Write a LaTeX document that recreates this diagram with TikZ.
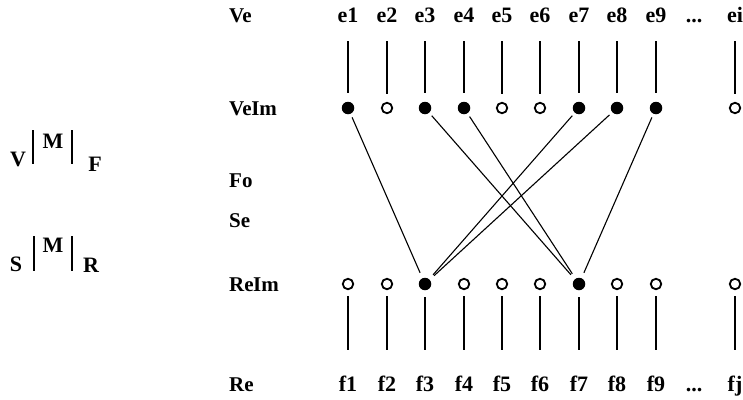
\documentclass[tikz,border=0pt]{standalone}
\usepackage{fontspec}
\setmainfont{Liberation Serif}
\begin{document}
\begin{tikzpicture}[x=1pt,y=-1pt,
  lbl/.style={font=\fontsize{22}{26}\selectfont\bfseries, inner sep=0pt, anchor=base, text height=14pt, text depth=0pt},
  rowlbl/.style={lbl, font=\fontsize{21}{25}\selectfont\bfseries, anchor=base west},
  mth/.style={font=\fontsize{22}{26}\selectfont\bfseries, inner sep=0pt, anchor=base},
  full/.style={circle, fill=black, minimum size=12.5pt, inner sep=0pt, outer sep=0pt},
  hollow/.style={circle, draw=black, line width=1.8pt, fill=white, minimum size=10.5pt, inner sep=0pt, outer sep=0pt},
  stem/.style={line width=1.7pt},
  link/.style={line width=1.1pt, shorten <=4pt, shorten >=6pt},
  bar/.style={line width=1.5pt}]
\useasboundingbox (0,0) rectangle (743,399);

% row captions
\node[rowlbl] (cVe)   at (229,22)  {Ve};
\node[rowlbl] (cVeIm) at (229,115) {Ve\kern-0.5pt Im};
\node[rowlbl] (cFo)   at (229,187) {Fo};
\node[rowlbl] (cSe)   at (229,227) {Se};
\node[rowlbl] (cReIm) at (229,291) {Re\kern-0.5pt Im};
\node[rowlbl] (cRe)   at (229,391) {Re};

% left-hand expressions
\node[mth] (v1) at (18,166) {V};
\node[mth] (m1) at (53,148) {M};
\node[mth] (f1x) at (95,171) {F};
\coordinate (b1a) at (33,130); \coordinate (b1b) at (33,164);
\coordinate (b2a) at (72,130); \coordinate (b2b) at (72,164);
\draw[bar] (b1a) -- (b1b);
\draw[bar] (b2a) -- (b2b);
\node[mth] (s2) at (16,271) {S};
\node[mth] (m2) at (53,252) {M};
\node[mth] (r2x) at (91,272) {R};
\coordinate (b3a) at (34,236); \coordinate (b3b) at (34,271);
\coordinate (b4a) at (72,236); \coordinate (b4b) at (72,271);
\draw[bar] (b3a) -- (b3b);
\draw[bar] (b4a) -- (b4b);

% columns: x position, top dot style, bottom dot style
\foreach \i/\x/\ts/\bs in {1/348/full/hollow, 2/387/hollow/hollow, 3/425/full/full,
    4/464/full/hollow, 5/502/hollow/hollow, 6/540/hollow/hollow,
    7/579/full/full, 8/617/full/hollow, 9/656/full/hollow}{
  \node[lbl] (e\i) at (\x,22) {e\i};
  \node[\ts] (t\i) at (\x,108) {};
  \node[\bs] (b\i) at (\x,284) {};
  \node[lbl] (f\i) at (\x,391) {f\i};
  \draw[stem, shorten <=19pt, shorten >=9pt] (e\i.south) -- (t\i.north);
  \draw[stem, shorten <=7pt, shorten >=27pt] (b\i.south) -- (f\i.north);
}
\node[lbl] (edots) at (694,22) {...};
\node[lbl] (fdots) at (694,391) {...};
\node[lbl] (ei) at (735,22) {ei};
\node[hollow] (ti) at (735,108) {};
\node[hollow] (bi) at (735,284) {};
\node[lbl] (fj) at (735,391) {fj};
\draw[stem, shorten <=19pt, shorten >=9pt] (ei.south) -- (ti.north);
\draw[stem, shorten <=7pt, shorten >=27pt] (bi.south) -- (fj.north);

% crossing links
\draw[link] (t1) -- (b3);
\draw[link] (t7) -- (b3);
\draw[link] (t8) -- (b3);
\draw[link] (t3) -- (b7);
\draw[link] (t4) -- (b7);
\draw[link] (t9) -- (b7);
\end{tikzpicture}
\end{document}
